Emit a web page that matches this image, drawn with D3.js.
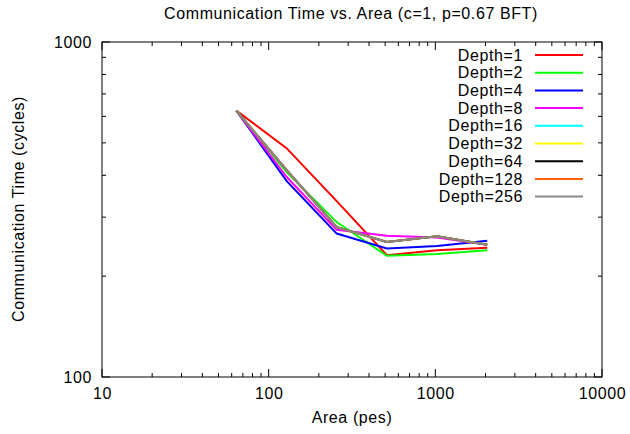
<!DOCTYPE html>
<html><head><meta charset="utf-8">
<script src="https://cdn.jsdelivr.net/npm/d3@7"></script>
<style>body{margin:0;background:#fff}svg{display:block}text{font-family:"Liberation Sans",Arial,sans-serif;letter-spacing:0.6px}</style>
</head><body>
<svg id="c" width="630" height="434"></svg>
<script>
const areas = [64, 128, 256, 512, 1024, 2048];
const seriesNames = ["Depth=1","Depth=2","Depth=4","Depth=8","Depth=16","Depth=32","Depth=64","Depth=128","Depth=256"];
const seriesColors = ["#ff0000","#00ff00","#0000ff","#ff00ff","#00ffff","#ffff00","#000000","#ff6000","#888888"];
const depth1   = [624, 482, 335, 231, 239, 243];
const depth2   = [624, 409, 290, 230, 233, 239];
const depth4   = [624, 385, 268, 242, 246, 255];
const depth8   = [624, 396, 275, 264, 261, 248];
const depth16  = [624, 415, 280, 253, 263, 248];
const depth32  = [624, 415, 280, 253, 263, 248];
const depth64  = [624, 415, 280, 253, 263, 248];
const depth128 = [624, 415, 280, 253, 263, 248];
const depth256 = [624, 415, 280, 253, 263, 248];
const seriesValues = [depth1, depth2, depth4, depth8, depth16, depth32, depth64, depth128, depth256];
const xTickValues = [10, 100, 1000, 10000];
const yTickValues = [100, 1000];

const FS = 16;
const svg = d3.select("#c");
const L = 102, R = 602, T = 42, B = 377;
const x = d3.scaleLog().domain([10, 10000]).range([L, R]);
const y = d3.scaleLog().domain([100, 1000]).range([B, T]);

const xMinor = [];
for (let d = 10; d < 10000; d *= 10) for (let k = 2; k <= 9; k++) xMinor.push(d * k);
const yMinor = [];
for (let k = 2; k <= 9; k++) yMinor.push(100 * k);

const g = svg.append("g");
function ticks(vals, len) {
  vals.forEach(v => {
    g.append("line").attr("x1", x(v)).attr("x2", x(v)).attr("y1", B).attr("y2", B - len).attr("stroke", "#000");
    g.append("line").attr("x1", x(v)).attr("x2", x(v)).attr("y1", T).attr("y2", T + len).attr("stroke", "#000");
  });
}
ticks(xMinor, 4);
ticks(xTickValues, 8);
function yt(vals, len) {
  vals.forEach(v => {
    g.append("line").attr("y1", y(v)).attr("y2", y(v)).attr("x1", L).attr("x2", L + len).attr("stroke", "#000");
    g.append("line").attr("y1", y(v)).attr("y2", y(v)).attr("x1", R).attr("x2", R - len).attr("stroke", "#000");
  });
}
yt(yMinor, 4);
yt(yTickValues, 8);

const xAxis = d3.axisBottom(x).tickValues(xTickValues).tickFormat(d3.format("d")).tickSize(0).tickPadding(11);
const xa = svg.append("g").attr("transform", `translate(0,${B})`).call(xAxis);
const yAxis = d3.axisLeft(y).tickValues(yTickValues).tickFormat(d3.format("d")).tickSize(0).tickPadding(10);
const ya = svg.append("g").attr("transform", `translate(${L},0)`).call(yAxis);
[xa, ya].forEach(a => {
  a.select(".domain").remove();
  a.selectAll("text").attr("font-size", FS).attr("fill", "#000").style("font-family", '"Liberation Sans",Arial,sans-serif');
});

svg.append("rect").attr("x", L).attr("y", T).attr("width", R - L).attr("height", B - T)
  .attr("fill", "none").attr("stroke", "#000").attr("stroke-width", 1);

const line = d3.line().x((d, i) => x(areas[i])).y(d => y(d));
seriesValues.forEach((vals, i) => {
  svg.append("path").attr("d", line(vals)).attr("fill", "none")
    .attr("stroke", seriesColors[i]).attr("stroke-width", 2).attr("stroke-linejoin", "miter");
});

const leg = svg.append("g");
seriesNames.forEach((n, i) => {
  const yy = 55 + i * 17.7;
  leg.append("text").attr("x", 523).attr("y", yy).attr("dy", "0.35em").attr("text-anchor", "end")
    .attr("font-size", FS).text(n);
  leg.append("line").attr("x1", 535).attr("x2", 583).attr("y1", yy).attr("y2", yy)
    .attr("stroke", seriesColors[i]).attr("stroke-width", 2);
});

svg.append("text").attr("x", 351).attr("y", 19).attr("text-anchor", "middle").attr("font-size", FS)
  .text("Communication Time vs. Area (c=1, p=0.67 BFT)");
svg.append("text").attr("x", 352).attr("y", 423).attr("text-anchor", "middle").attr("font-size", FS)
  .text("Area (pes)");
svg.append("text").attr("transform", "translate(24,209) rotate(-90)").attr("text-anchor", "middle").attr("font-size", FS)
  .text("Communication Time (cycles)");
</script>
</body></html>
